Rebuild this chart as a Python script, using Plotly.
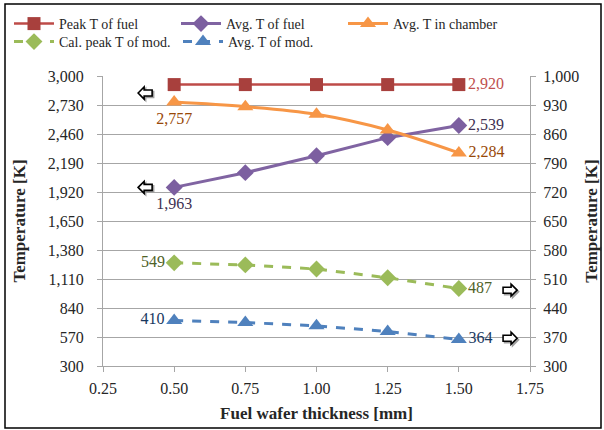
import plotly.graph_objects as go

thickness = [0.50, 0.75, 1.00, 1.25, 1.50]
peak_fuel = [2920, 2920, 2920, 2920, 2920]
avg_fuel = [1963, 2100, 2258, 2426, 2539]
avg_chamber = [2757, 2714, 2643, 2497, 2284]
cal_peak_mod = [549, 544, 534, 513, 487]
avg_mod = [410, 405, 397, 383, 364]

left_ticks = [300, 570, 840, 1110, 1380, 1650, 1920, 2190, 2460, 2730, 3000]
right_ticks = [300, 370, 440, 510, 580, 650, 720, 790, 860, 930, 1000]
x_ticks = [0.25, 0.50, 0.75, 1.00, 1.25, 1.50, 1.75]

FONT = "Liberation Serif, Times New Roman, serif"
TXT = "#262626"

# plot-area geometry in pixels (used only to convert layout positions)
PL, PW, PT, PH = 103, 427, 76, 290


def px_x(p):
    return (p - PL) / PW


def px_y(p):
    return (PT + PH - p) / PH


def end_labels(vals, first_pos, last_pos):
    txt = [""] * len(vals)
    pos = ["middle right"] * len(vals)
    if first_pos:
        txt[0] = f"{vals[0]:,}"
        pos[0] = first_pos
    if last_pos:
        txt[-1] = f"{vals[-1]:,}"
        pos[-1] = last_pos
    return txt, pos


fig = go.Figure()

t, p = end_labels(peak_fuel, None, "middle right")
fig.add_trace(go.Scatter(
    x=thickness, y=peak_fuel, name="Peak T of fuel", mode="lines+markers+text",
    legend="legend",
    line=dict(color="#BE4B48", width=2.5),
    marker=dict(symbol="square", size=13, color="#A8403D"),
    text=t, textposition=p, textfont=dict(color="#C0504D", size=16, family=FONT),
    cliponaxis=False))

t, p = end_labels(avg_fuel, "bottom center", "middle right")
fig.add_trace(go.Scatter(
    x=thickness, y=avg_fuel, name="Avg. T of fuel", mode="lines+markers+text",
    legend="legend",
    line=dict(color="#8064A2", width=3),
    marker=dict(symbol="diamond", size=13, color="#7C5FA0"),
    text=t, textposition=p, textfont=dict(color="#403152", size=16, family=FONT),
    cliponaxis=False))

t, p = end_labels(avg_chamber, "bottom center", "middle right")
fig.add_trace(go.Scatter(
    x=thickness, y=avg_chamber, name="Avg. T in chamber", mode="lines+markers+text",
    legend="legend",
    line=dict(color="#F79646", width=3, shape="spline"),
    marker=dict(symbol="triangle-up", size=14, color="#F79646"),
    text=t, textposition=p, textfont=dict(color="#984807", size=16, family=FONT),
    cliponaxis=False))

t, p = end_labels(cal_peak_mod, "middle left", "middle right")
fig.add_trace(go.Scatter(
    x=thickness, y=cal_peak_mod, name="Cal. peak T of mod.", mode="lines+markers+text",
    yaxis="y2", legend="legend2",
    line=dict(color="#9BBB59", width=3, dash="dash"),
    marker=dict(symbol="diamond", size=13, color="#9BBB59"),
    text=t, textposition=p, textfont=dict(color="#4F6228", size=16, family=FONT),
    cliponaxis=False))

t, p = end_labels(avg_mod, "middle left", "middle right")
fig.add_trace(go.Scatter(
    x=thickness, y=avg_mod, name="Avg. T of mod.", mode="lines+markers+text",
    yaxis="y2", legend="legend3",
    line=dict(color="#4F81BD", width=3, dash="dash"),
    marker=dict(symbol="triangle-up", size=14, color="#4F81BD"),
    text=t, textposition=p, textfont=dict(color="#17375E", size=16, family=FONT),
    cliponaxis=False))

# Block arrows indicating which axis each series uses (pixel-sized, data-anchored)
LEFT_ARROW = "M -7 0 L -1 6 L -1 3 L 7 3 L 7 -3 L -1 -3 L -1 -6 Z"
RIGHT_ARROW = "M 7 0 L 1 6 L 1 3 L -7 3 L -7 -3 L 1 -3 L 1 -6 Z"
SHADOW_L = "M -5.5 -1.5 L 0.5 4.5 L 0.5 1.5 L 8.5 1.5 L 8.5 -4.5 L 0.5 -4.5 L 0.5 -7.5 Z"
SHADOW_R = "M 8.5 -1.5 L 2.5 4.5 L 2.5 1.5 L -5.5 1.5 L -5.5 -4.5 L 2.5 -4.5 L 2.5 -7.5 Z"
arrow_specs = [
    (0.398, 2842, "y", LEFT_ARROW, SHADOW_L),
    (0.398, 1963, "y", LEFT_ARROW, SHADOW_L),
    (1.68, 483, "y2", RIGHT_ARROW, SHADOW_R),
    (1.68, 367, "y2", RIGHT_ARROW, SHADOW_R),
]
for ax_x, ax_y, yref, path, shadow in arrow_specs:
    for pth, fill, lc in ((shadow, "#A0A0A0", "#A0A0A0"), (path, "white", "black")):
        fig.add_shape(type="path", xref="x", yref=yref,
                      xsizemode="pixel", ysizemode="pixel",
                      xanchor=ax_x, yanchor=ax_y, path=pth,
                      fillcolor=fill, line=dict(color=lc, width=1.6),
                      layer="above")

# outer border
fig.add_shape(type="rect", xref="paper", yref="paper",
              x0=px_x(5), x1=px_x(601), y0=px_y(428), y1=px_y(4),
              line=dict(color="#000000", width=1.5), fillcolor="rgba(0,0,0,0)")

axis_common = dict(showline=True, linecolor="#A6A6A6", linewidth=1,
                   ticks="outside", ticklen=5, tickcolor="#A6A6A6",
                   tickfont=dict(family=FONT, size=16, color=TXT),
                   zeroline=False)

legend_common = dict(orientation="h", xref="paper", yref="paper",
                     xanchor="left", yanchor="middle",
                     entrywidth=112, entrywidthmode="pixels",
                     bgcolor="rgba(0,0,0,0)",
                     font=dict(family=FONT, size=14, color=TXT),
                     tracegroupgap=0, itemwidth=40)

fig.update_layout(
    width=604, height=430,
    margin=dict(l=PL, r=604 - PL - PW, t=PT, b=430 - PT - PH, autoexpand=False),
    paper_bgcolor="white", plot_bgcolor="white",
    font=dict(family=FONT, size=16, color=TXT),
    showlegend=True,
    legend=dict(x=px_x(9), y=px_y(24), **legend_common),
    legend2=dict(x=px_x(9), y=px_y(42), **legend_common),
    legend3=dict(x=px_x(178), y=px_y(42), **legend_common),
    xaxis=dict(range=[0.25, 1.75], tickvals=x_ticks, tickformat=".2f",
               showgrid=False, ticklabelstandoff=3,
               title=dict(text="<b>Fuel wafer thickness [mm]</b>",
                          font=dict(family=FONT, size=17, color=TXT),
                          standoff=10),
               **axis_common),
    yaxis=dict(range=[300, 3000], tickvals=left_ticks, tickformat=",",
               showgrid=True, gridcolor="#A6A6A6", gridwidth=1,
               ticklabelstandoff=10,
               title=dict(text="<b>Temperature [K]</b>",
                          font=dict(family=FONT, size=17, color=TXT),
                          standoff=17),
               **axis_common),
    yaxis2=dict(range=[300, 1000], tickvals=right_ticks, tickformat=",",
                overlaying="y", side="right", showgrid=False,
                ticklabelstandoff=4,
                title=dict(text="<b>Temperature [K]</b>",
                           font=dict(family=FONT, size=17, color=TXT),
                           standoff=6),
                **axis_common),
)

fig.write_html("out.html", config={"displayModeBar": False},
               post_script="document.body.style.margin='0';document.body.style.padding='0';")
